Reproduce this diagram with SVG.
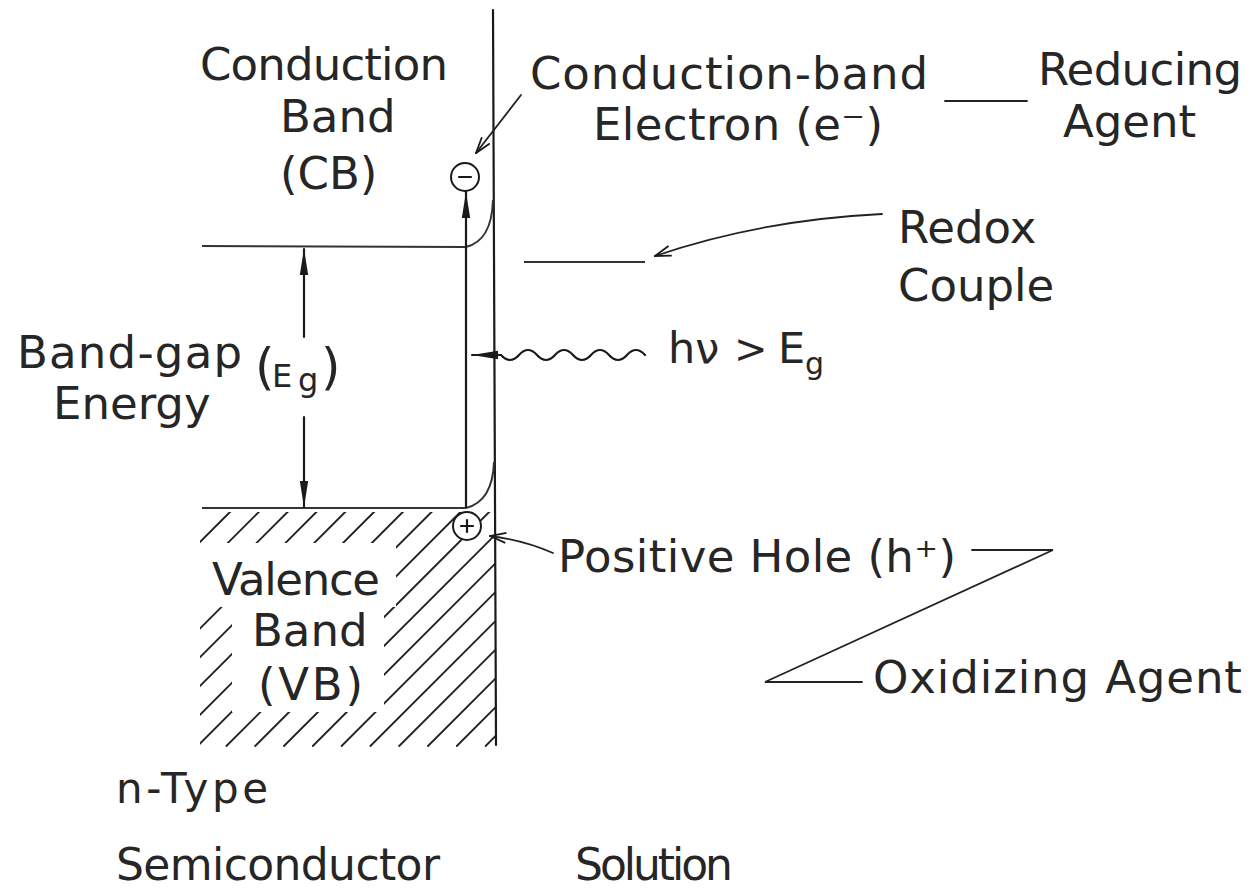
<svg xmlns="http://www.w3.org/2000/svg" width="1256" height="889" viewBox="0 0 1256 889">
<defs>
<style>
text { font-family: "DejaVu Sans", "Liberation Sans", sans-serif; font-size: 45px; fill: #262626; }
.ln { stroke: #1a1a1a; stroke-width: 2.2; fill: none; stroke-linecap: round; }
.lv { stroke: #333; stroke-width: 2; fill: none; }
.ld { stroke: #222; stroke-width: 1.8; fill: none; stroke-linecap: round; }
.hatch { stroke: #222; stroke-width: 1.8; fill: none; stroke-linecap: round; }
.dot { fill: #fff; stroke: #1a1a1a; stroke-width: 2; }
</style>
<marker id="solid" viewBox="0 0 26 10" refX="26" refY="5" markerWidth="26" markerHeight="10" markerUnits="userSpaceOnUse" orient="auto">
<path d="M0,0.8 L26,5 L0,9.2 z" fill="#1a1a1a"/>
</marker>
<marker id="open" viewBox="0 0 18 12" refX="17" refY="6" markerWidth="18" markerHeight="12" markerUnits="userSpaceOnUse" orient="auto">
<path d="M1,1 L17,6 L1,11" fill="none" stroke="#1a1a1a" stroke-width="1.8"/>
</marker>
<mask id="hm" maskUnits="userSpaceOnUse" x="0" y="0" width="1256" height="889">
<rect x="200" y="512" width="295" height="236" fill="#fff"/>
<rect x="196" y="543" width="200" height="64" fill="#000"/>
<rect x="232" y="606" width="152" height="106" fill="#000"/>
</mask>
</defs>

<g id="hatching" mask="url(#hm)">
<path class="hatch" d="M-4,746 L231,511 M24.8,746 L259.8,511 M53.6,746 L288.6,511 M82.4,746 L317.4,511 M111.2,746 L346.2,511 M140,746 L375,511 M168.8,746 L403.8,511 M197.6,746 L432.6,511 M226.4,746 L461.4,511 M255.2,746 L490.2,511 M284,746 L519,511 M312.8,746 L547.8,511 M341.6,746 L576.6,511 M370.4,746 L605.4,511 M399.2,746 L634.2,511 M428,746 L663,511 M456.8,746 L691.8,511 M485.6,746 L720.6,511"/>
</g>

<g id="interface">
<line class="ln" x1="493" y1="10" x2="496" y2="745"/>
</g>

<g id="bands">
<line class="lv" x1="202" y1="246" x2="466" y2="247"/>
<path class="lv" d="M466,247 C482,243 492,230 493,200"/>
<line class="lv" x1="202" y1="508" x2="466" y2="508"/>
<path class="lv" d="M466,508 C482,504 493,490 494,462"/>
<line class="lv" x1="524" y1="262" x2="645" y2="262"/>
</g>

<g id="connectors">
<line class="ln" x1="466" y1="507" x2="466" y2="192" marker-end="url(#solid)"/>
<line class="ln" x1="304" y1="337" x2="304" y2="249" marker-end="url(#solid)"/>
<line class="ln" x1="304" y1="417" x2="304" y2="507" marker-end="url(#solid)"/>
<path class="ln" d="M645,355 q-9,-10 -18,0 t-18,0 t-18,0 t-18,0 t-18,0 t-18,0 t-18,0 t-18,0 L472,355" marker-end="url(#solid)"/>
<line class="ld" x1="521" y1="95" x2="476" y2="153" marker-end="url(#open)"/>
<path class="ld" d="M882,214 Q760,220 655,256" marker-end="url(#open)"/>
<path class="ld" d="M553,553 Q523,540 490,536" marker-end="url(#open)"/>
<line class="ld" x1="945" y1="101" x2="1027" y2="101"/>
<polyline class="ld" points="972,550 1053,550 765,682 862,682"/>
</g>

<g id="electron">
<circle class="dot" cx="465" cy="177" r="14"/>
<line class="ln" x1="459" y1="177" x2="471" y2="177"/>
</g>
<g id="hole">
<circle class="dot" cx="467" cy="526" r="14"/>
<line class="ln" x1="461" y1="526" x2="473" y2="526"/>
<line class="ln" x1="467" y1="520" x2="467" y2="532"/>
</g>

<g id="label-cb">
<text x="200" y="80" textLength="248" lengthAdjust="spacing">Conduction</text>
<text x="280" y="132">Band</text>
<text x="280" y="189">(CB)</text>
</g>
<g id="label-electron">
<text x="530" y="89" textLength="398" lengthAdjust="spacing">Conduction-band</text>
<text x="593" y="140" textLength="290" lengthAdjust="spacing">Electron (e⁻)</text>
</g>
<g id="label-reducing">
<text x="1038" y="85" textLength="204" lengthAdjust="spacing">Reducing</text>
<text x="1063" y="137">Agent</text>
</g>
<g id="label-redox">
<text x="898" y="243">Redox</text>
<text x="898" y="301">Couple</text>
</g>
<g id="label-bandgap">
<text x="17" y="368" textLength="225" lengthAdjust="spacing">Band-gap</text>
<text x="53" y="419">Energy</text>
<text x="255" y="384" style="font-size:50px">(</text>
<text x="272" y="387" style="font-size:32px">E</text>
<text x="298" y="391" style="font-size:32px">g</text>
<text x="321" y="384" style="font-size:50px">)</text>
</g>
<g id="label-hv">
<text x="668" y="363" style="font-size:43px">hν</text>
<text x="734" y="363" style="font-size:40px">&gt;</text>
<text x="778" y="363" style="font-size:43px">E</text>
<text x="805" y="374" style="font-size:30px">g</text>
</g>
<g id="label-hole">
<text x="558" y="572" textLength="398" lengthAdjust="spacing">Positive Hole (h⁺)</text>
</g>
<g id="label-oxidizing">
<text x="873" y="693" textLength="369" lengthAdjust="spacing">Oxidizing Agent</text>
</g>
<g id="label-vb">
<text x="212" y="595" textLength="168" lengthAdjust="spacing">Valence</text>
<text x="252" y="646">Band</text>
<text x="258" y="700" textLength="105" lengthAdjust="spacing">(VB)</text>
</g>
<g id="label-bottom">
<text x="116" y="803" style="font-size:42px" textLength="152" lengthAdjust="spacing">n-Type</text>
<text x="116" y="880" style="font-size:44px" textLength="324" lengthAdjust="spacing">Semiconductor</text>
<text x="575" y="880" style="font-size:44px" textLength="158" lengthAdjust="spacing">Solution</text>
</g>
</svg>
